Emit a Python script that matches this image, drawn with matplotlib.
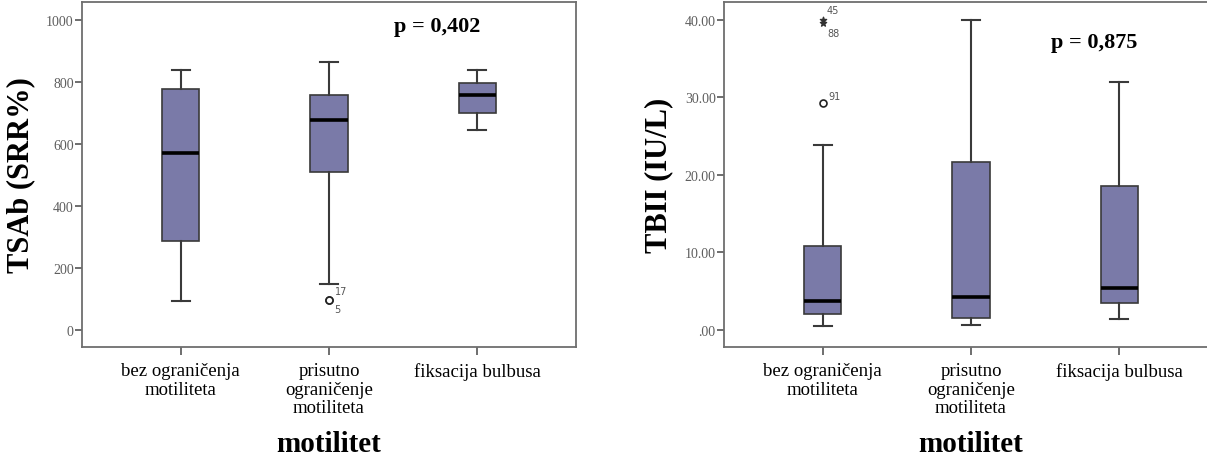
import numpy as np
import matplotlib
matplotlib.use("Agg")
import matplotlib.pyplot as plt
from matplotlib.ticker import FuncFormatter

plt.rcParams["font.family"] = ["Liberation Serif", "DejaVu Serif"]

groups = ["bez ograničenja\nmotiliteta", "prisutno\nograničenje\nmotiliteta", "fiksacija bulbusa"]

# TSAb (SRR%) box statistics
tsab_whislo = [92, 147, 644]
tsab_q1 = [287, 511, 700]
tsab_med = [572, 678, 759]
tsab_q3 = [778, 759, 797]
tsab_whishi = [838, 866, 838]
tsab_fliers = [[], [97, 97], []]
tsab_flier_ids = [[], ["17", "5"], []]

# TBII (IU/L) box statistics
tbii_whislo = [0.52, 0.6, 1.46]
tbii_q1 = [2.02, 1.55, 3.48]
tbii_med = [3.74, 4.2, 5.45]
tbii_q3 = [10.8, 21.7, 18.6]
tbii_whishi = [23.9, 40.0, 31.9]
tbii_fliers = [[29.2], [], []]
tbii_flier_ids = [["91"], [], []]
tbii_extremes = [[40.0, 39.5], [], []]
tbii_extreme_ids = [["45", "88"], [], []]

BOX_COLOR = "#7a7aa8"
EDGE = "#3a3a3a"


def stats(lo, q1, med, q3, hi, fl):
    return [dict(whislo=lo[i], q1=q1[i], med=med[i], q3=q3[i], whishi=hi[i], fliers=fl[i])
            for i in range(len(med))]


def draw(ax, st):
    ax.bxp(st, positions=[1, 2, 3], widths=0.25, capwidths=0.12, patch_artist=True,
           boxprops=dict(facecolor=BOX_COLOR, edgecolor=EDGE, linewidth=1.2),
           whiskerprops=dict(color=EDGE, linewidth=1.5),
           capprops=dict(color=EDGE, linewidth=1.5),
           medianprops=dict(color="black", linewidth=2.6),
           flierprops=dict(marker="o", markersize=5, markerfacecolor="white",
                           markeredgecolor="#222222", markeredgewidth=1.2),
           manage_ticks=False)
    ax.set_xlim(0.334, 3.666)
    ax.set_xticks([1, 2, 3])
    ax.set_xticklabels(groups, fontsize=13.5, linespacing=1.1)
    ax.tick_params(axis="x", length=6, width=1.2, color="#555555", pad=5)
    ax.tick_params(axis="y", length=5, width=1.2, color="#555555", labelsize=10,
                   labelcolor="#5e5e5e", pad=1)
    for s in ax.spines.values():
        s.set_color("#6e6e6e")
        s.set_linewidth(1.3)
    ax.set_xlabel("motilitet", fontsize=21, fontweight="bold", labelpad=10)


fig = plt.figure(figsize=(12.07, 4.6), dpi=100)
ax1 = fig.add_axes([82 / 1207, 112 / 460, 494 / 1207, 345 / 460])
ax2 = fig.add_axes([724 / 1207, 112 / 460, 494 / 1207, 345 / 460])

draw(ax1, stats(tsab_whislo, tsab_q1, tsab_med, tsab_q3, tsab_whishi, tsab_fliers))
ax1.set_ylim(-55, 1058)
ax1.set_yticks(np.arange(0, 1001, 200))
ax1.set_ylabel("TSAb (SRR%)", fontsize=22, fontweight="bold", labelpad=8)
for i, ids in enumerate(tsab_flier_ids):
    if ids:
        y = tsab_fliers[i][0]
        ax1.annotate(ids[0], (i + 1, y), xytext=(4, 4), textcoords="offset points",
                     fontsize=7, family="DejaVu Sans", color="#555555")
        ax1.annotate(ids[1], (i + 1, y), xytext=(4, -9), textcoords="offset points",
                     fontsize=7, family="DejaVu Sans", color="#555555")
ax1.text(0.72, 0.93, "p = 0,402", transform=ax1.transAxes, ha="center", va="center",
         fontsize=16, fontweight="bold")

draw(ax2, stats(tbii_whislo, tbii_q1, tbii_med, tbii_q3, tbii_whishi, tbii_fliers))
ax2.set_ylim(-2.19, 42.27)
ax2.set_yticks(np.arange(0, 41, 10))
ax2.yaxis.set_major_formatter(FuncFormatter(lambda v, p: f"{v:.2f}".lstrip("0") if v < 1 else f"{v:.2f}"))
ax2.set_ylabel("TBII (IU/L)", fontsize=22, fontweight="bold", labelpad=8)
for i, ids in enumerate(tbii_flier_ids):
    for y, lab in zip(tbii_fliers[i], ids):
        ax2.annotate(lab, (i + 1, y), xytext=(4, 3), textcoords="offset points",
                     fontsize=7, family="DejaVu Sans", color="#555555")
for i, vals in enumerate(tbii_extremes):
    if vals:
        ax2.scatter([i + 1] * len(vals), vals, marker="*", s=22, color="#333333", zorder=5)
        ax2.annotate(tbii_extreme_ids[i][0], (i + 1, vals[0]), xytext=(3, 5), textcoords="offset points",
                     fontsize=7, family="DejaVu Sans", color="#555555")
        ax2.annotate(tbii_extreme_ids[i][1], (i + 1, vals[1]), xytext=(3, -9), textcoords="offset points",
                     fontsize=7, family="DejaVu Sans", color="#555555")
ax2.text(0.749, 0.884, "p = 0,875", transform=ax2.transAxes, ha="center", va="center",
         fontsize=16, fontweight="bold")

fig.savefig("out.png", dpi=100)
